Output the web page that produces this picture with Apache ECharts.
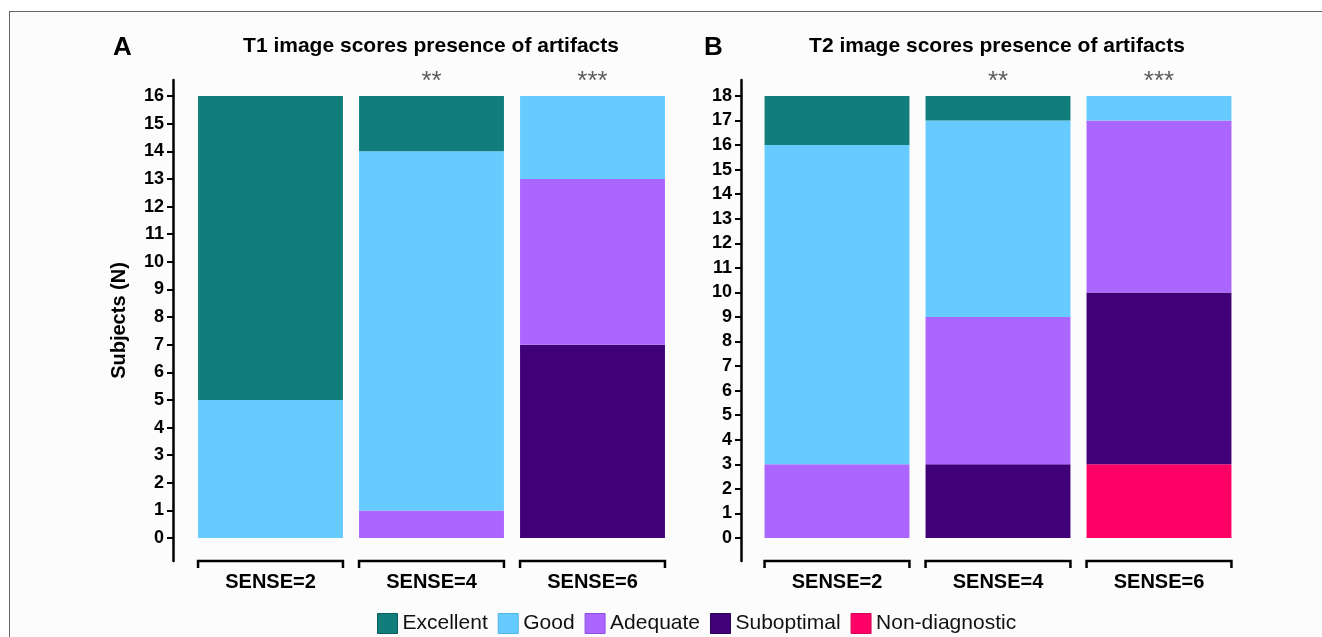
<!DOCTYPE html>
<html>
<head>
<meta charset="utf-8">
<script src="https://cdn.jsdelivr.net/npm/echarts@6/dist/echarts.min.js"></script>
<style>
html,body{margin:0;padding:0;background:#ffffff;width:1322px;height:637px;overflow:hidden;}
#frame{position:absolute;left:9px;top:11px;right:0;bottom:0;border-left:1px solid #666;border-top:1px solid #666;background:#fcfcfc;}
#chart{position:absolute;left:0;top:0;width:1322px;height:637px;}
</style>
</head>
<body>
<div id="frame"></div>
<div id="chart"></div>
<script>
// ---- data ----
const categories = ['SENSE=2', 'SENSE=4', 'SENSE=6'];
const scoreNames = ['Excellent', 'Good', 'Adequate', 'Suboptimal', 'Non-diagnostic'];

// Panel A: T1
const t1Excellent     = [11, 2, 0];
const t1Good          = [5, 13, 3];
const t1Adequate      = [0, 1, 6];
const t1Suboptimal    = [0, 0, 7];
const t1NonDiagnostic = [0, 0, 0];

// Panel B: T2
const t2Excellent     = [2, 1, 0];
const t2Good          = [13, 8, 1];
const t2Adequate      = [3, 6, 7];
const t2Suboptimal    = [0, 3, 7];
const t2NonDiagnostic = [0, 0, 3];

const significance = ['', '**', '***'];

const yTicksA = [0, 1, 2, 3, 4, 5, 6, 7, 8, 9, 10, 11, 12, 13, 14, 15, 16];
const yTicksB = [0, 1, 2, 3, 4, 5, 6, 7, 8, 9, 10, 11, 12, 13, 14, 15, 16, 17, 18];

const titleA = 'T1 image scores presence of artifacts';
const titleB = 'T2 image scores presence of artifacts';
const yAxisName = 'Subjects (N)';

// ---- styles ----
const colors = {
  'Excellent': '#117E7C',
  'Good': '#66CCFF',
  'Adequate': '#AA66FF',
  'Suboptimal': '#400078',
  'Non-diagnostic': '#FF0066'
};
const borders = {
  'Excellent': '#0c5e5c',
  'Good': '#4fb3e6',
  'Adequate': '#8c4fe0',
  'Suboptimal': '#2c0055',
  'Non-diagnostic': '#d90057'
};
const FONT = '"Liberation Sans", Arial, Helvetica, sans-serif';
const AXIS_MIN_A = -0.83, AXIS_MAX_A = 16.58;
const AXIS_MIN_B = -0.94, AXIS_MAX_B = 18.65;

const seriesA = {
  'Excellent': t1Excellent, 'Good': t1Good, 'Adequate': t1Adequate,
  'Suboptimal': t1Suboptimal, 'Non-diagnostic': t1NonDiagnostic
};
const seriesB = {
  'Excellent': t2Excellent, 'Good': t2Good, 'Adequate': t2Adequate,
  'Suboptimal': t2Suboptimal, 'Non-diagnostic': t2NonDiagnostic
};

function totals(obj) {
  return categories.map((c, i) => scoreNames.reduce((s, n) => s + obj[n][i], 0));
}

function stackSeries(obj, idx, stackId) {
  // bottom to top: Non-diagnostic ... Excellent
  return scoreNames.slice().reverse().map(name => ({
    name: name,
    type: 'bar',
    stack: stackId,
    xAxisIndex: idx,
    yAxisIndex: idx,
    barWidth: '90%',
    itemStyle: { color: colors[name], borderWidth: 0 },
    emphasis: { disabled: true },
    data: obj[name]
  }));
}

function starSeries(obj, idx) {
  const tot = totals(obj);
  return {
    type: 'scatter',
    xAxisIndex: idx,
    yAxisIndex: idx,
    symbolSize: 0,
    silent: true,
    data: tot.map((v, i) => [i, v]),
    label: {
      show: true,
      position: 'top',
      distance: 1,
      fontFamily: FONT,
      fontSize: 26,
      color: '#333',
      formatter: p => significance[p.dataIndex]
    }
  };
}

function bracketSeries(idx, yMin) {
  return {
    type: 'custom',
    xAxisIndex: idx,
    yAxisIndex: idx,
    silent: true,
    clip: false,
    data: categories.map((c, i) => [i, yMin]),
    encode: { x: 0, y: 1 },
    renderItem: function (params, api) {
      const p = api.coord([api.value(0), api.value(1)]);
      const hw = api.size([1, 0])[0] * 0.45;
      const drop = 7;
      return {
        type: 'polyline',
        shape: { points: [[p[0] - hw, p[1] + drop], [p[0] - hw, p[1]], [p[0] + hw, p[1]], [p[0] + hw, p[1] + drop]] },
        style: { stroke: '#000', lineWidth: 2.5, fill: null }
      };
    }
  };
}

function yAxisCfg(idx, min, max, ticks, offset, name) {
  return {
    type: 'value',
    gridIndex: idx,
    min: min,
    max: max,
    offset: offset,
    name: name || '',
    nameLocation: 'middle',
    nameGap: 44,
    nameTextStyle: { fontFamily: FONT, fontSize: 20, fontWeight: 'bold', color: '#000' },
    splitLine: { show: false },
    axisLine: { show: true, lineStyle: { color: '#000', width: 2.5 } },
    axisTick: { show: true, length: 6, customValues: ticks, lineStyle: { color: '#000', width: 2 } },
    axisLabel: {
      show: true, customValues: ticks, margin: 9,
      fontFamily: FONT, fontSize: 18, fontWeight: 'bold', color: '#000'
    }
  };
}

function xAxisCfg(idx) {
  return {
    type: 'category',
    gridIndex: idx,
    data: categories,
    axisLine: { show: false },
    axisTick: { show: false },
    axisLabel: { margin: 11, fontFamily: FONT, fontSize: 20, fontWeight: 'bold', color: '#000' }
  };
}

const chart = echarts.init(document.getElementById('chart'), null, { renderer: 'canvas' });

const option = {
  backgroundColor: 'transparent',
  animation: false,
  textStyle: { fontFamily: FONT },
  graphic: [
    { type: 'text', x: 113, y: 48, style: { text: 'A', font: 'bold 26px ' + FONT, fill: '#000', textVerticalAlign: 'middle' } },
    { type: 'text', x: 431, y: 46, style: { text: titleA, font: 'bold 21px ' + FONT, fill: '#000', textAlign: 'center', textVerticalAlign: 'middle' } },
    { type: 'text', x: 704, y: 48, style: { text: 'B', font: 'bold 26px ' + FONT, fill: '#000', textVerticalAlign: 'middle' } },
    { type: 'text', x: 997, y: 46, style: { text: titleB, font: 'bold 21px ' + FONT, fill: '#000', textAlign: 'center', textVerticalAlign: 'middle' } }
  ],
  legend: {
    top: 608,
    left: 372,
    itemWidth: 20,
    itemHeight: 20,
    itemGap: 10,
    icon: 'rect',
    selectedMode: false,
    textStyle: { fontFamily: FONT, fontSize: 21, color: '#111' },
    data: scoreNames.map(n => ({ name: n, itemStyle: { color: colors[n], borderColor: borders[n], borderWidth: 1 } }))
  },
  grid: [
    { left: 190, width: 483, top: 80, bottom: 76, containLabel: false },
    { left: 756.5, width: 483, top: 80, bottom: 76, containLabel: false }
  ],
  xAxis: [xAxisCfg(0), xAxisCfg(1)],
  yAxis: [
    yAxisCfg(0, AXIS_MIN_A, AXIS_MAX_A, yTicksA, 17, yAxisName),
    yAxisCfg(1, AXIS_MIN_B, AXIS_MAX_B, yTicksB, 15.5, '')
  ],
  series: [].concat(
    stackSeries(seriesA, 0, 'A'),
    stackSeries(seriesB, 1, 'B'),
    [starSeries(seriesA, 0), starSeries(seriesB, 1),
     bracketSeries(0, AXIS_MIN_A), bracketSeries(1, AXIS_MIN_B)]
  )
};
chart.setOption(option);
</script>
</body>
</html>
